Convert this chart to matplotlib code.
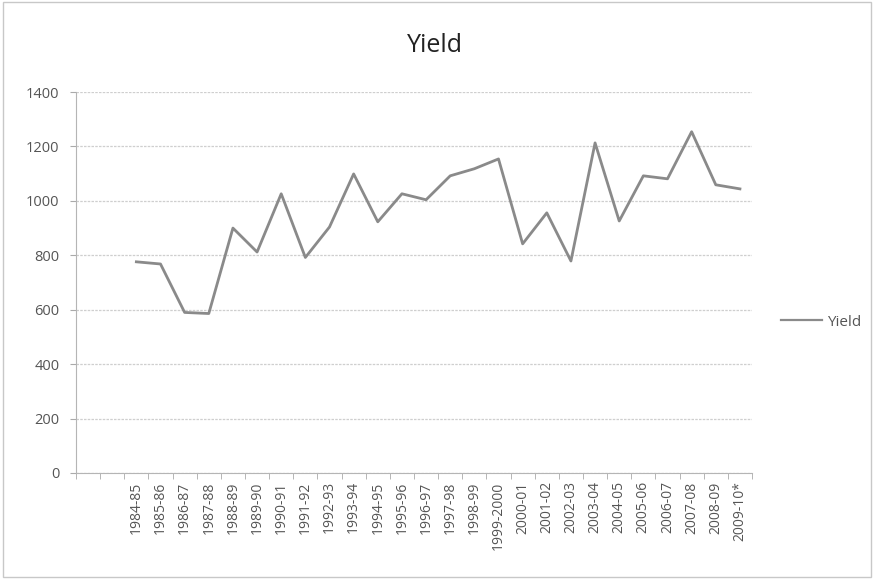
import matplotlib.pyplot as plt

# two empty category slots come before the first season in the source chart
seasons = ['', '',
           '1984-85', '1985-86', '1986-87', '1987-88', '1988-89', '1989-90',
           '1990-91', '1991-92', '1992-93', '1993-94', '1994-95', '1995-96',
           '1996-97', '1997-98', '1998-99', '1999-2000', '2000-01', '2001-02',
           '2002-03', '2003-04', '2004-05', '2005-06', '2006-07', '2007-08',
           '2008-09', '2009-10*']
yield_vals = [776, 768, 590, 586, 900, 812, 1026, 792, 904, 1099, 923,
              1026, 1004, 1092, 1118, 1154, 842, 956, 779, 1213, 926, 1092,
              1081, 1254, 1059, 1044]
yticks = [0, 200, 400, 600, 800, 1000, 1200, 1400]

plt.rcParams['font.family'] = ['Open Sans', 'DejaVu Sans']

fig = plt.figure(figsize=(8.74, 5.79), dpi=100)
ax = fig.add_axes([76 / 874, 1 - 473 / 579, (752 - 76) / 874, (473 - 92) / 579])

x = list(range(len(seasons) - len(yield_vals), len(seasons)))
ax.plot(x, yield_vals, color='#8a8a8a', lw=2, label='Yield')

ax.set_xlim(-0.5, len(seasons) - 0.5)
ax.set_ylim(0, 1400)
ax.set_yticks(yticks)
ax.set_yticklabels([str(v) for v in yticks], fontsize=10.5, color='#555555')
ax.set_xticks(range(len(seasons)))
ax.set_xticklabels(seasons, rotation=90, fontsize=10, color='#555555')
ax.set_xticks([i - 0.5 for i in range(len(seasons) + 1)], minor=True)
ax.tick_params(axis='x', which='major', length=0, pad=6)
ax.tick_params(axis='x', which='minor', length=4, color='#aaaaaa')
ax.tick_params(axis='y', length=4, color='#aaaaaa', pad=8)

ax.grid(axis='y', color='#cfcfcf', lw=0.9, linestyle=(0, (2, 1)))
ax.set_axisbelow(True)
for side in ['top', 'right']:
    ax.spines[side].set_visible(False)
for side in ['left', 'bottom']:
    ax.spines[side].set_color('#b5b5b5')

fig.text(0.498, 1 - 45 / 579, 'Yield', ha='center', va='center', fontsize=18, color='#222222')

leg = fig.legend(loc='center left', bbox_to_anchor=(767 / 874, 1 - 322 / 579),
                 frameon=False, fontsize=11, handlelength=2.7, handletextpad=0.3,
                 labelcolor='#555555')
for h in leg.get_lines():
    h.set_linewidth(1.6)

# thin light border round the chart
fig.patches.append(plt.Rectangle((0.004, 0.004), 0.992, 0.992, transform=fig.transFigure,
                                 fill=False, edgecolor='#c8c8c8', lw=1))

fig.savefig('out.png', dpi=100)
